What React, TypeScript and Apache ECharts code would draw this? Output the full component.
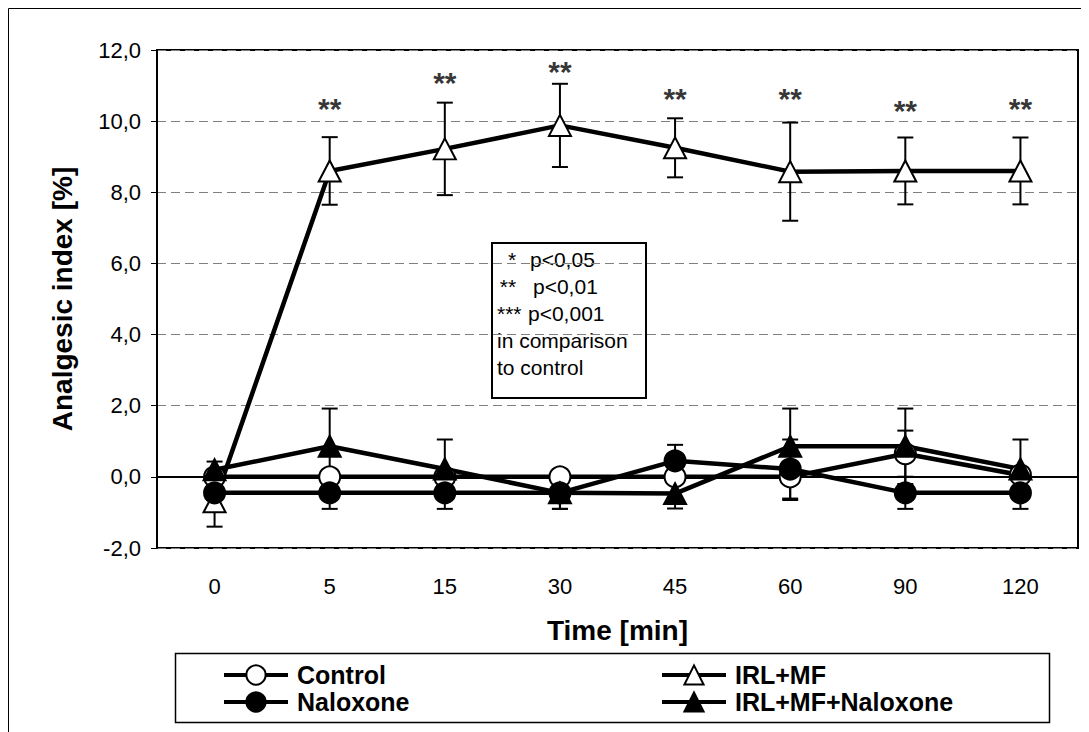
import React, { useEffect, useRef } from "react";
import * as echarts from "echarts";

const times = ["0", "5", "15", "30", "45", "60", "90", "120"];

const control = [0, 0, 0, 0, 0, 0, 0.65, 0.05];
const controlErr = [0, 0, 0, 0, 0, 0.65, 0.65, 0];

const irlmf = [-0.7, 8.6, 9.22, 9.88, 9.25, 8.58, 8.6, 8.6];
const irlmfErr = [0.7, 0.95, 1.3, 1.17, 0.83, 1.38, 0.94, 0.94];

const naloxone = [-0.45, -0.45, -0.45, -0.45, 0.45, 0.22, -0.45, -0.45];
const naloxoneErr = [0.45, 0.45, 0.45, 0.45, 0.45, 0.83, 0.45, 0.45];

const irlmfNal = [0.2, 0.86, 0.22, -0.45, -0.47, 0.86, 0.86, 0.22];
const irlmfNalErr = [0.23, 1.06, 0.83, 0.45, 0.42, 1.06, 1.06, 0.83];

const starLabels = ["", "**", "**", "**", "**", "**", "**", "**"];
const starY = [null, 10.54, 11.27, 11.6, 10.82, 10.82, 10.5, 10.54];

const FONT = "'Liberation Sans', Arial, sans-serif";

function errData(vals: number[], errs: number[]) {
  return vals.map((v, i) => [i, v - errs[i], v + errs[i]]);
}

function errSeries(vals: number[], errs: number[]) {
  return {
    type: "custom",
    z: 1,
    silent: true,
    data: errData(vals, errs),
    renderItem: (params: any, api: any) => {
      const x = api.value(0);
      const lo = api.coord([x, api.value(1)]);
      const hi = api.coord([x, api.value(2)]);
      const hw = 8;
      const style = { stroke: "#000", lineWidth: 2 };
      return {
        type: "group",
        children: [
          { type: "line", shape: { x1: lo[0], y1: lo[1], x2: hi[0], y2: hi[1] }, style },
          { type: "line", shape: { x1: hi[0] - hw, y1: hi[1], x2: hi[0] + hw, y2: hi[1] }, style },
          { type: "line", shape: { x1: lo[0] - hw, y1: lo[1], x2: lo[0] + hw, y2: lo[1] }, style },
        ],
      };
    },
  };
}

function lineSeries(name: string, data: number[], symbol: string, size: any, fill: string) {
  return {
    name,
    type: "line",
    z: 2,
    data,
    symbol,
    symbolSize: size,
    showAllSymbol: true,
    lineStyle: { color: "#000", width: 4.5 },
    itemStyle: { color: fill, borderColor: "#000", borderWidth: 2 },
  };
}

export default function App() {
  const ref = useRef<HTMLDivElement>(null);

  useEffect(() => {
    if (!ref.current) return;
    const chart = echarts.init(ref.current, undefined, { renderer: "svg" });

    const legendCommon = {
      orient: "vertical",
      padding: 0,
      itemGap: 1,
      itemWidth: 64,
      itemHeight: 24,
      lineStyle: { width: 4, color: "#000" },
      textStyle: {
        fontFamily: FONT,
        fontWeight: "bold",
        fontSize: 25,
        color: "#000",
        lineHeight: 26,
        padding: [0, 0, 0, 4],
      },
      selectedMode: false,
    };

    chart.setOption({
      animation: false,
      backgroundColor: "#fff",
      textStyle: { fontFamily: FONT },
      grid: {
        left: 149,
        right: 11,
        top: 42,
        bottom: 184,
        show: true,
        borderColor: "#000",
        borderWidth: 2,
        backgroundColor: "transparent",
      },
      xAxis: {
        type: "category",
        data: times,
        boundaryGap: true,
        name: "Time [min]",
        nameLocation: "middle",
        nameGap: 68,
        nameTextStyle: { fontFamily: FONT, fontWeight: "bold", fontSize: 28, color: "#000" },
        axisLine: { lineStyle: { color: "#000", width: 2 } },
        axisTick: { show: false },
        axisLabel: { fontFamily: FONT, fontSize: 22, color: "#000", margin: 27 },
      },
      yAxis: {
        type: "value",
        min: -2,
        max: 12,
        interval: 2,
        name: "Analgesic index [%]",
        nameLocation: "middle",
        nameGap: 81,
        nameTextStyle: { fontFamily: FONT, fontWeight: "bold", fontSize: 28, color: "#000" },
        axisLine: { show: true, lineStyle: { color: "#000", width: 2 } },
        axisTick: { show: true, length: 6, lineStyle: { color: "#000", width: 1 } },
        axisLabel: {
          fontFamily: FONT,
          fontSize: 22,
          color: "#000",
          margin: 16,
          formatter: (v: number) => v.toFixed(1).replace(".", ","),
        },
        splitLine: { show: true, lineStyle: { color: "#808080", width: 1, type: [9, 5] } },
      },
      legend: [
        { ...legendCommon, left: 214, top: 654, data: ["Control", "Naloxone"] },
        { ...legendCommon, left: 652, top: 654, data: ["IRL+MF", "IRL+MF+Naloxone"] },
      ],
      graphic: [
        {
          type: "rect",
          shape: { x: 0.5, y: 0.5, width: 1200, height: 1000 },
          style: { fill: "none", stroke: "#000", lineWidth: 1 },
          silent: true,
          z: 0,
        },
        {
          type: "rect",
          shape: { x: 167.5, y: 645.5, width: 874, height: 69 },
          style: { fill: "#fff", stroke: "#000", lineWidth: 1.5 },
          silent: true,
          z: 0,
        },
        {
          type: "group",
          z: 100,
          children: [
            {
              type: "rect",
              shape: { x: 484, y: 235, width: 154, height: 155 },
              style: { fill: "#fff", stroke: "#000", lineWidth: 2 },
            },
            { type: "text", x: 504, y: 251, style: { text: "*", font: `21px ${FONT}`, fill: "#000", align: "center", verticalAlign: "middle" } },
            { type: "text", x: 522, y: 251, style: { text: "p<0,05", font: `21px ${FONT}`, fill: "#000", align: "left", verticalAlign: "middle" } },
            { type: "text", x: 500, y: 278, style: { text: "**", font: `21px ${FONT}`, fill: "#000", align: "center", verticalAlign: "middle" } },
            { type: "text", x: 525, y: 278, style: { text: "p<0,01", font: `21px ${FONT}`, fill: "#000", align: "left", verticalAlign: "middle" } },
            { type: "text", x: 489, y: 305, style: { text: "***", font: `21px ${FONT}`, fill: "#000", align: "left", verticalAlign: "middle" } },
            { type: "text", x: 520, y: 305, style: { text: "p<0,001", font: `21px ${FONT}`, fill: "#000", align: "left", verticalAlign: "middle" } },
            { type: "text", x: 489, y: 332, style: { text: "in comparison", font: `21px ${FONT}`, fill: "#000", align: "left", verticalAlign: "middle" } },
            { type: "text", x: 489, y: 359, style: { text: "to control", font: `21px ${FONT}`, fill: "#000", align: "left", verticalAlign: "middle" } },
          ],
        },
      ],
      series: [
        errSeries(control, controlErr),
        errSeries(irlmf, irlmfErr),
        errSeries(naloxone, naloxoneErr),
        errSeries(irlmfNal, irlmfNalErr),
        lineSeries("Control", control, "circle", 21, "#fff"),
        lineSeries("IRL+MF", irlmf, "triangle", [22, 21], "#fff"),
        lineSeries("Naloxone", naloxone, "circle", 21, "#000"),
        lineSeries("IRL+MF+Naloxone", irlmfNal, "triangle", [22, 21], "#000"),
        {
          type: "scatter",
          z: 3,
          silent: true,
          symbolSize: 1,
          itemStyle: { color: "transparent" },
          data: starY.map((v, i) => (v == null ? null : [i, v])),
          label: {
            show: true,
            position: "inside",
            formatter: (p: any) => starLabels[p.dataIndex],
            fontFamily: FONT,
            fontWeight: "bold",
            fontSize: 30,
            color: "#000",
            textBorderWidth: 0,
            offset: [0, 7],
          },
        },
      ],
    });

    return () => chart.dispose();
  }, []);

  return <div ref={ref} style={{ width: 1081, height: 724 }} />;
}
